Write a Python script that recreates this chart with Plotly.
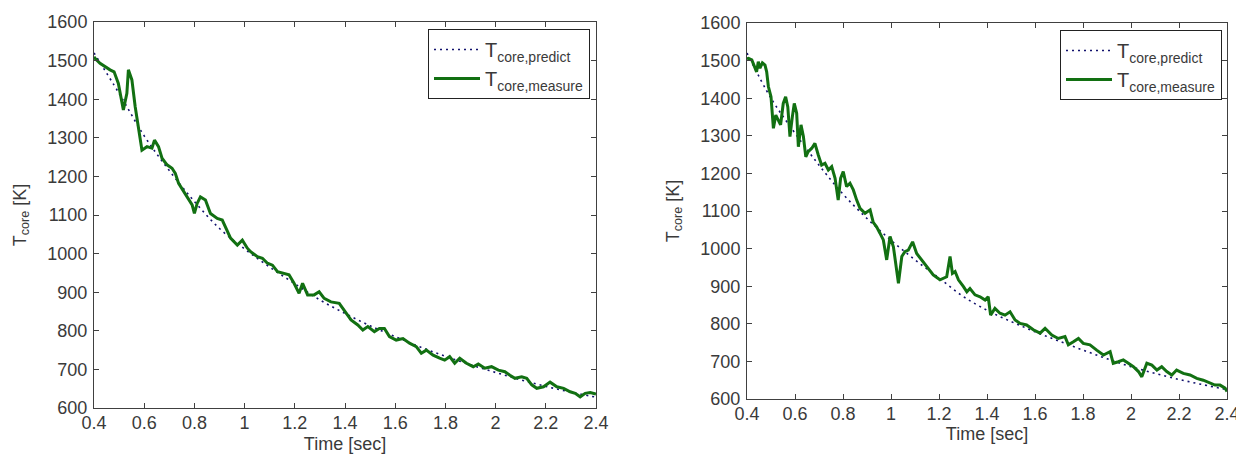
import plotly.graph_objects as go

# ---------------- data ----------------
# predicted core temperature (smooth), sampled every 0.1 s
t_pred = [0.4, 0.5, 0.6, 0.7, 0.8, 0.9, 1.0, 1.1, 1.2, 1.3, 1.4,
          1.5, 1.6, 1.7, 1.8, 1.9, 2.0, 2.1, 2.2, 2.3, 2.4]
T_pred_left = [1520, 1415, 1305, 1215, 1135, 1065, 1012, 965, 922, 880, 845,
               813, 785, 758, 734, 712, 692, 673, 656, 641, 628]
T_pred_right = [1520, 1400, 1307, 1222, 1145, 1080, 1022, 970, 922, 873, 836,
                806, 779, 754, 730, 707, 686, 668, 652, 638, 625]

# measured core temperature, left panel
t_meas_left = [0.400, 0.404, 0.424, 0.444, 0.464, 0.480, 0.497, 0.517, 0.531, 0.537,
               0.551, 0.564, 0.577, 0.591, 0.611, 0.631, 0.641, 0.657, 0.671, 0.691,
               0.711, 0.724, 0.737, 0.757, 0.777, 0.791, 0.800, 0.811, 0.824, 0.844,
               0.864, 0.891, 0.911, 0.924, 0.944, 0.971, 0.991, 1.011, 1.024, 1.051,
               1.071, 1.091, 1.111, 1.131, 1.157, 1.177, 1.197, 1.217, 1.231, 1.251,
               1.277, 1.297, 1.317, 1.344, 1.377, 1.397, 1.424, 1.451, 1.471, 1.491,
               1.517, 1.537, 1.557, 1.577, 1.604, 1.631, 1.657, 1.684, 1.704, 1.724,
               1.751, 1.777, 1.797, 1.817, 1.837, 1.857, 1.884, 1.911, 1.931, 1.957,
               1.984, 2.011, 2.037, 2.057, 2.077, 2.104, 2.124, 2.144, 2.164, 2.191,
               2.217, 2.244, 2.271, 2.297, 2.317, 2.337, 2.357, 2.377, 2.400]
T_meas_left = [1510, 1506, 1493, 1484, 1476, 1471, 1441, 1372, 1415, 1476,
               1450, 1381, 1329, 1268, 1277, 1273, 1294, 1277, 1247, 1230,
               1221, 1208, 1182, 1160, 1139, 1126, 1104, 1130, 1147, 1139,
               1104, 1091, 1087, 1070, 1040, 1022, 1035, 1014, 1005, 992,
               988, 975, 970, 953, 949, 945, 923, 897, 923, 893,
               893, 901, 884, 875, 871, 854, 828, 815, 802, 811,
               798, 806, 806, 785, 776, 780, 768, 759, 742, 750,
               737, 729, 724, 733, 716, 729, 716, 707, 714, 703,
               707, 698, 694, 685, 677, 681, 677, 660, 651, 655,
               667, 655, 651, 642, 638, 629, 638, 640, 636]

# measured core temperature, right panel
t_meas_right = [0.400, 0.406, 0.420, 0.433, 0.440, 0.447, 0.454, 0.464, 0.475, 0.482,
                0.489, 0.500, 0.510, 0.520, 0.530, 0.540, 0.551, 0.561, 0.570, 0.579,
                0.589, 0.597, 0.607, 0.614, 0.625, 0.635, 0.645, 0.655, 0.670, 0.683,
                0.697, 0.711, 0.725, 0.739, 0.753, 0.767, 0.780, 0.790, 0.801, 0.815,
                0.829, 0.843, 0.857, 0.871, 0.892, 0.913, 0.926, 0.940, 0.954, 0.968,
                0.982, 0.996, 1.010, 1.031, 1.045, 1.058, 1.072, 1.090, 1.107, 1.128,
                1.149, 1.176, 1.204, 1.232, 1.246, 1.256, 1.267, 1.281, 1.302, 1.316,
                1.329, 1.350, 1.371, 1.392, 1.405, 1.415, 1.433, 1.454, 1.475, 1.496,
                1.517, 1.538, 1.565, 1.593, 1.621, 1.642, 1.670, 1.697, 1.725, 1.739,
                1.760, 1.781, 1.801, 1.829, 1.857, 1.885, 1.913, 1.926, 1.947, 1.968,
                1.989, 2.010, 2.031, 2.045, 2.066, 2.087, 2.108, 2.128, 2.149, 2.170,
                2.190, 2.218, 2.246, 2.274, 2.301, 2.329, 2.350, 2.371, 2.392, 2.400]
T_meas_right = [1505, 1506, 1502, 1484, 1470, 1497, 1480, 1494, 1488, 1470,
                1431, 1404, 1320, 1355, 1342, 1329, 1386, 1404, 1377, 1298,
                1351, 1386, 1360, 1271, 1329, 1298, 1244, 1258, 1267, 1280,
                1249, 1222, 1227, 1209, 1218, 1187, 1129, 1187, 1205, 1165,
                1174, 1156, 1129, 1107, 1094, 1103, 1070, 1058, 1041, 1023,
                970, 1032, 1005, 908, 979, 992, 996, 1018, 987, 970,
                952, 930, 917, 925, 979, 934, 939, 917, 899, 885,
                894, 877, 872, 863, 872, 823, 841, 828, 823, 832,
                810, 801, 797, 784, 775, 788, 770, 761, 766, 744,
                752, 761, 748, 744, 730, 717, 726, 695, 699, 704,
                695, 686, 673, 659, 695, 690, 677, 686, 673, 664,
                677, 668, 664, 655, 650, 642, 637, 637, 629, 620]

x_tick_vals = [0.4, 0.6, 0.8, 1.0, 1.2, 1.4, 1.6, 1.8, 2.0, 2.2, 2.4]
x_tick_text = ["0.4", "0.6", "0.8", "1", "1.2", "1.4", "1.6", "1.8", "2", "2.2", "2.4"]
y_tick_vals = [600, 700, 800, 900, 1000, 1100, 1200, 1300, 1400, 1500, 1600]

label_pred = "T<sub>core,predict</sub>"
label_meas = "T<sub>core,measure</sub>"
x_title = "Time [sec]"
y_title = "T<sub>core</sub> [K]"

# ---------------- styling ----------------
# the page body has an 8 px margin, so the figure is 8 px smaller and all
# window-pixel positions are shifted by 8 px
OFF = 8
W, H = 1244 - OFF, 456 - OFF
GREEN = "#127012"
BLUE = "#12126e"
AXC = "#404040"
TXT = "#3a3a3a"
FONT = "Liberation Sans, Arial, sans-serif"


def px(x):
    return (x - OFF) / W


def py(y):
    return 1 - (y - OFF) / H


fig = go.Figure()

pred_line = dict(color=BLUE, width=1.6, dash="2px,4px", shape="spline")
meas_line = dict(color=GREEN, width=3)

fig.add_trace(go.Scatter(x=t_pred, y=T_pred_left, mode="lines", name=label_pred,
                         line=pred_line, xaxis="x", yaxis="y", legend="legend"))
fig.add_trace(go.Scatter(x=t_meas_left, y=T_meas_left, mode="lines", name=label_meas,
                         line=meas_line, xaxis="x", yaxis="y", legend="legend"))
fig.add_trace(go.Scatter(x=t_pred, y=T_pred_right, mode="lines", name=label_pred,
                         line=pred_line, xaxis="x2", yaxis="y2", legend="legend2"))
fig.add_trace(go.Scatter(x=t_meas_right, y=T_meas_right, mode="lines", name=label_meas,
                         line=meas_line, xaxis="x2", yaxis="y2", legend="legend2"))


def xaxis(domain, anchor, standoff):
    return dict(domain=domain, anchor=anchor, range=[0.4, 2.4],
                tickvals=x_tick_vals, ticktext=x_tick_text,
                ticks="inside", ticklen=5, tickcolor=AXC, tickwidth=1,
                showline=True, linecolor=AXC, linewidth=1, mirror="ticks",
                showgrid=False, zeroline=False, automargin=False,
                ticklabelstandoff=-2,
                tickfont=dict(family=FONT, size=18, color=TXT),
                title=dict(text=x_title, standoff=standoff,
                           font=dict(family=FONT, size=18, color=TXT)))


def yaxis(domain, anchor):
    return dict(domain=domain, anchor=anchor, range=[600, 1600],
                tickvals=y_tick_vals,
                ticks="inside", ticklen=5, tickcolor=AXC, tickwidth=1,
                showline=True, linecolor=AXC, linewidth=1, mirror="ticks",
                showgrid=False, zeroline=False, automargin=False,
                ticklabelstandoff=2,
                tickfont=dict(family=FONT, size=18, color=TXT),
                title=dict(text=y_title, standoff=16,
                           font=dict(family=FONT, size=18, color=TXT)))


legend_style = dict(xanchor="right", yanchor="top",
                    bgcolor="white", bordercolor="#222", borderwidth=1,
                    font=dict(family=FONT, size=20, color=TXT),
                    tracegroupgap=0, itemwidth=46)

fig.update_layout(
    width=W, height=H,
    margin=dict(l=0, r=0, t=0, b=0),
    paper_bgcolor="white", plot_bgcolor="white",
    font=dict(family=FONT, size=18, color=TXT),
    xaxis=xaxis([px(94), px(596)], "y", 5),
    yaxis=yaxis([py(408), py(22)], "x"),
    xaxis2=xaxis([px(747), px(1227)], "y2", 2),
    yaxis2=yaxis([py(399), py(23)], "x2"),
    legend=dict(x=px(590), y=py(29), **legend_style),
    legend2=dict(x=px(1222), y=py(30), **legend_style),
    showlegend=True,
)

fig.write_html("out.html")
